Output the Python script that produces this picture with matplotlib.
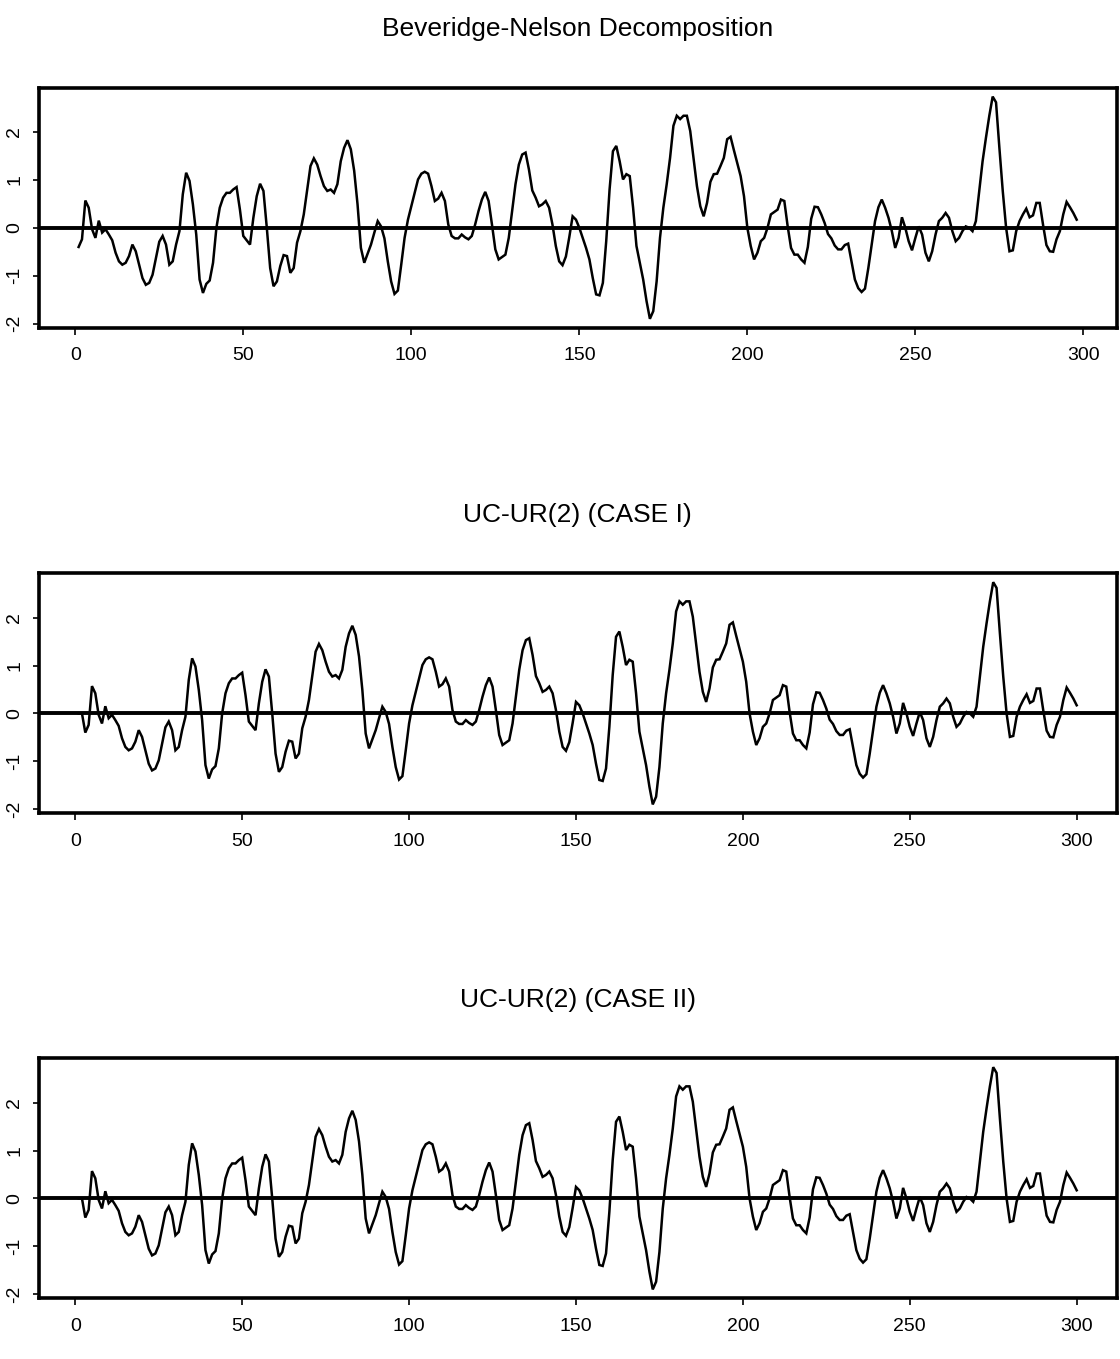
import matplotlib
matplotlib.use("Agg")
import matplotlib.pyplot as plt
from matplotlib import font_manager

# ---------------- data ----------------
titles = ["Beveridge-Nelson Decomposition", "UC-UR(2) (CASE I)", "UC-UR(2) (CASE II)"]
x_ticks = [0, 50, 100, 150, 200, 250, 300]
y_ticks = [-2, -1, 0, 1, 2]

bn_cycle = [
    -0.40, -0.24, 0.57, 0.42, -0.03, -0.21, 0.15, -0.10, -0.03, -0.14,
    -0.26, -0.52, -0.70, -0.77, -0.73, -0.59, -0.35, -0.49, -0.77, -1.05,
    -1.19, -1.15, -0.98, -0.63, -0.29, -0.17, -0.35, -0.77, -0.70, -0.35,
    -0.07, 0.70, 1.15, 0.98, 0.49, -0.14, -1.08, -1.36, -1.17, -1.10,
    -0.73, 0.00, 0.42, 0.63, 0.73, 0.73, 0.80, 0.85, 0.38, -0.17,
    -0.26, -0.35, 0.21, 0.66, 0.92, 0.77, 0.00, -0.84, -1.22, -1.12,
    -0.80, -0.57, -0.59, -0.94, -0.84, -0.31, -0.07, 0.28, 0.78, 1.29,
    1.45, 1.32, 1.08, 0.87, 0.77, 0.80, 0.73, 0.91, 1.39, 1.67,
    1.83, 1.64, 1.19, 0.49, -0.42, -0.73, -0.54, -0.35, -0.10, 0.14,
    0.03, -0.22, -0.70, -1.12, -1.38, -1.31, -0.77, -0.21, 0.17, 0.45,
    0.73, 1.01, 1.13, 1.17, 1.13, 0.87, 0.56, 0.61, 0.73, 0.56,
    0.07, -0.17, -0.22, -0.22, -0.14, -0.20, -0.24, -0.17, 0.07, 0.35,
    0.59, 0.75, 0.56, 0.07, -0.45, -0.66, -0.61, -0.56, -0.21, 0.35,
    0.91, 1.32, 1.53, 1.57, 1.22, 0.78, 0.63, 0.45, 0.49, 0.56,
    0.42, 0.07, -0.38, -0.70, -0.78, -0.60, -0.20, 0.24, 0.17, 0.00,
    -0.21, -0.42, -0.66, -1.05, -1.39, -1.41, -1.15, -0.28, 0.80, 1.60,
    1.71, 1.39, 1.01, 1.12, 1.08, 0.42, -0.38, -0.73, -1.08, -1.53,
    -1.90, -1.74, -1.12, -0.21, 0.42, 0.91, 1.46, 2.13, 2.34, 2.27,
    2.34, 2.34, 2.02, 1.45, 0.87, 0.45, 0.24, 0.52, 0.96, 1.12,
    1.13, 1.29, 1.46, 1.85, 1.90, 1.62, 1.35, 1.08, 0.66, 0.00,
    -0.38, -0.66, -0.52, -0.28, -0.21, 0.00, 0.28, 0.33, 0.38, 0.59,
    0.56, 0.03, -0.42, -0.56, -0.56, -0.66, -0.73, -0.40, 0.19, 0.44,
    0.43, 0.28, 0.10, -0.13, -0.22, -0.37, -0.45, -0.45, -0.36, -0.33,
    -0.70, -1.08, -1.26, -1.34, -1.27, -0.84, -0.35, 0.14, 0.43, 0.59,
    0.42, 0.21, -0.07, -0.42, -0.21, 0.22, 0.00, -0.28, -0.47, -0.21,
    0.03, -0.14, -0.52, -0.70, -0.49, -0.14, 0.14, 0.21, 0.31, 0.21,
    -0.07, -0.28, -0.21, -0.07, 0.03, 0.00, -0.07, 0.14, 0.77, 1.39,
    1.88, 2.34, 2.74, 2.62, 1.67, 0.77, 0.00, -0.49, -0.47, -0.07,
    0.14, 0.28, 0.40, 0.22, 0.26, 0.52, 0.52, 0.06, -0.36, -0.49,
    -0.50, -0.24, -0.07, 0.28, 0.54, 0.43, 0.31, 0.17,
]
# the two UC-UR(2) cycles: two leading zeros, then the same path as the BN cycle
uc_case1 = [0.0, 0.0] + bn_cycle
uc_case2 = [0.0, 0.0] + bn_cycle
series = [bn_cycle, uc_case1, uc_case2]

# ---------------- fonts ----------------
avail = {f.name for f in font_manager.fontManager.ttflist}
narrow = "Liberation Sans Narrow" if "Liberation Sans Narrow" in avail else "Liberation Sans"
plt.rcParams["font.family"] = [narrow, "DejaVu Sans"]

# ---------------- figure ----------------
W, H = 1120, 1359
fig = plt.figure(figsize=(W / 100, H / 100), dpi=100)

left_px, right_px = 38.7, 1116.6
box_h = 240.0
bottoms_px = [327.7, 813.3, 1298.3]

for vals, title, bpx in zip(series, titles, bottoms_px):
    ax = fig.add_axes([left_px / W, 1 - bpx / H, (right_px - left_px) / W, box_h / H])
    xs = list(range(1, len(vals) + 1))
    ax.plot(xs, vals, color="black", lw=1.8, solid_joinstyle="miter")
    ax.margins(x=0.04, y=0.04)
    ax.axhline(0, color="black", lw=2.8)
    ax.set_xticks(x_ticks)
    ax.set_yticks(y_ticks)
    ax.set_xticklabels([str(v) for v in x_ticks])
    ax.set_yticklabels([str(v) for v in y_ticks], rotation=90, va="center")
    ax.tick_params(axis="x", direction="out", length=5, width=1.2, pad=9, labelsize=14)
    ax.tick_params(axis="y", direction="out", length=4, width=1.2, pad=7, labelsize=14)
    for sp in ax.spines.values():
        sp.set_linewidth(2.6)
        sp.set_color("black")
    ax.set_title(title, fontsize=19, pad=37)

fig.savefig("out.png", dpi=100, facecolor="white")
